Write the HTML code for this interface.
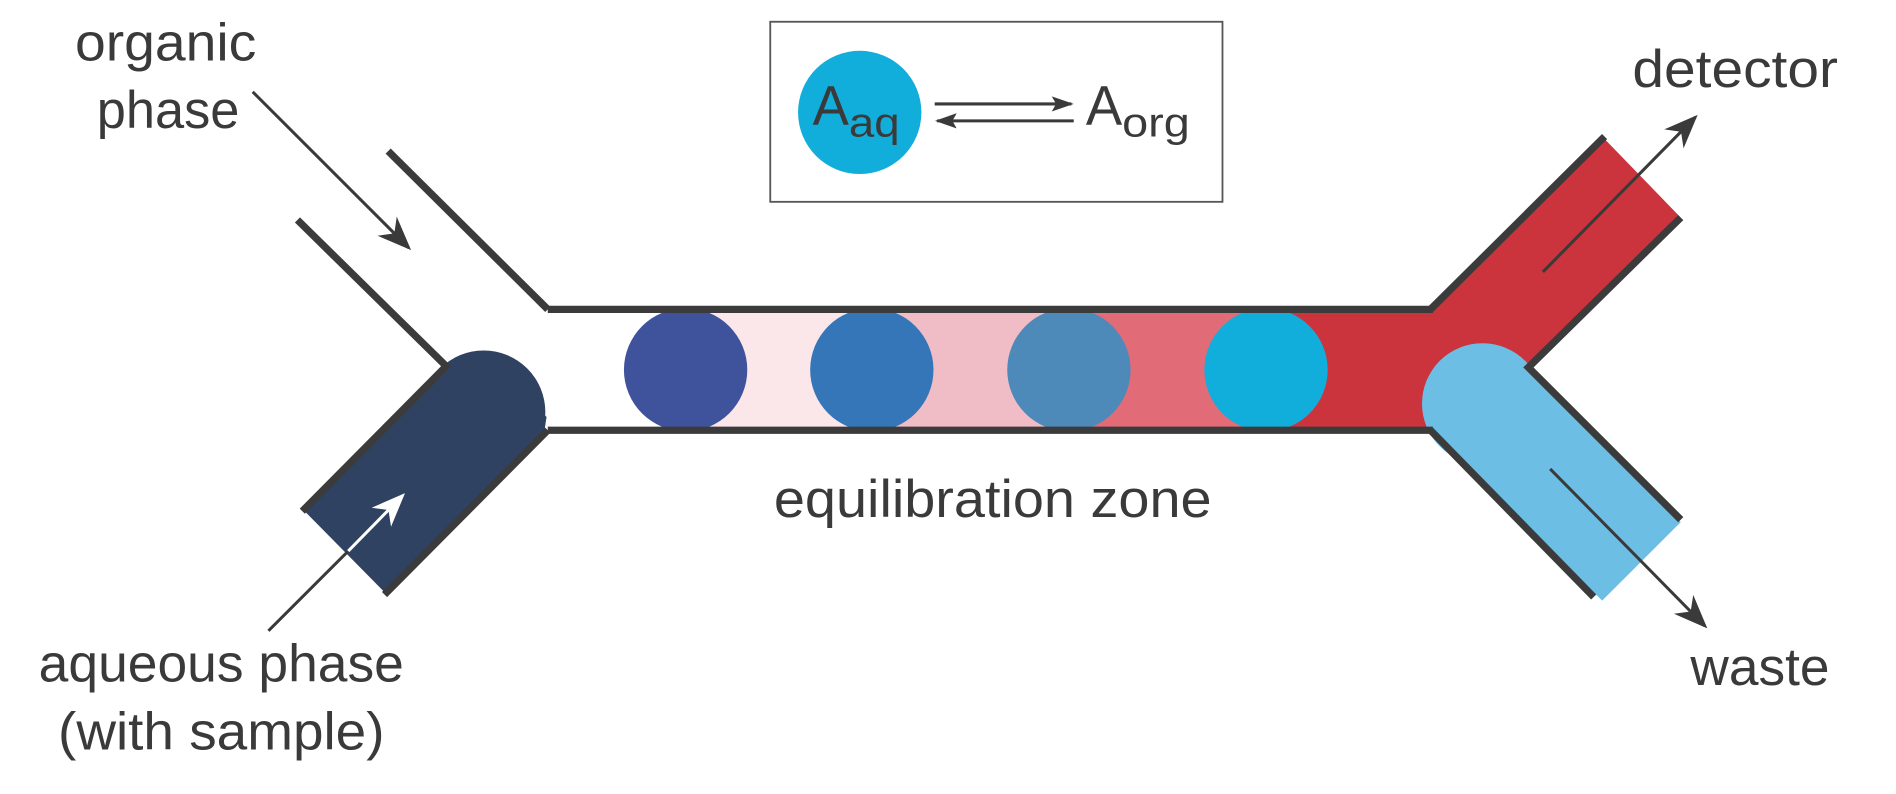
<!DOCTYPE html>
<html><head><meta charset="utf-8"><style>html,body{margin:0;padding:0;background:#fff}svg{display:block}</style></head>
<body>
<svg width="1896" height="794" viewBox="0 0 1568 657" preserveAspectRatio="none" xmlns="http://www.w3.org/2000/svg">
<defs>
<marker id="ahd" viewBox="0 0 10 10" refX="9" refY="5" markerWidth="28" markerHeight="28" orient="auto" markerUnits="userSpaceOnUse"><path d="M0,1 L10,5 L0,9 L3,5 z" fill="#3a3a3a"/></marker>
<marker id="ahs" viewBox="0 0 10 10" refX="9" refY="5" markerWidth="18" markerHeight="18" orient="auto" markerUnits="userSpaceOnUse"><path d="M0,1.5 L10,5 L0,8.5 L2,5 z" fill="#3a3a3a"/></marker>
<marker id="ahw" viewBox="0 0 10 10" refX="9" refY="5" markerWidth="28" markerHeight="28" orient="auto" markerUnits="userSpaceOnUse"><path d="M0,1 L10,5 L0,9 L3,5 z" fill="#fff"/></marker>
</defs>
<g font-family="Liberation Sans, sans-serif" fill="#3a3a3a" font-size="44">
<rect x="567" y="258" width="154" height="97" fill="#fbe6ea"/>
<rect x="721" y="258" width="150" height="97" fill="#f0bcc5"/>
<rect x="871" y="258" width="176" height="97" fill="#e26b78"/>
<rect x="1047" y="258" width="140" height="97" fill="#cb343d"/>
<polygon points="1183,258 1327,115 1388,178 1264,303 1183,357" fill="#cb343d"/>
<clipPath id="tc"><rect x="453" y="258" width="740" height="97"/></clipPath>
<g clip-path="url(#tc)">
<circle cx="567" cy="306" r="51" fill="#3f529c"/>
<circle cx="721" cy="306" r="51" fill="#3576b8"/>
<circle cx="884" cy="306" r="51" fill="#4d89b9"/>
<circle cx="1047" cy="306" r="51" fill="#12aedb"/>
</g>
<polygon points="1190,318 1260,300 1390,432 1325,497 1183,357" fill="#6dbee5"/>
<circle cx="1226" cy="334" r="50" fill="#6dbee5"/>
<polygon points="367,302 400,290 452,345 450,358 318,490 252,423" fill="#2f4262"/>
<circle cx="400" cy="341" r="51" fill="#2f4262"/>
<g stroke="#3b3b3b" stroke-width="6" fill="none">
<line x1="453" y1="256" x2="1185" y2="256"/>
<line x1="453" y1="356" x2="1185" y2="356"/>
<polyline points="321,125 453,256"/>
<polyline points="246,182 369,303 250,423"/>
<polyline points="453,356 318,492"/>
<polyline points="1183,256 1327,113"/>
<polyline points="1390,180 1264,304 1390,430"/>
<polyline points="1183,356 1318,494"/>
</g>
<line x1="209" y1="76" x2="338" y2="205" stroke="#3a3a3a" stroke-width="2.5" marker-end="url(#ahd)"/>
<line x1="222" y1="522" x2="288" y2="456" stroke="#3a3a3a" stroke-width="2.5"/>
<line x1="288" y1="456" x2="333" y2="410" stroke="#fff" stroke-width="2.5" marker-end="url(#ahw)"/>
<line x1="1276" y1="225" x2="1402" y2="97" stroke="#3a3a3a" stroke-width="2.5" marker-end="url(#ahd)"/>
<line x1="1282" y1="388" x2="1410" y2="518" stroke="#3a3a3a" stroke-width="2.5" marker-end="url(#ahd)"/>
<rect x="637" y="18" width="374" height="149" fill="none" stroke="#555" stroke-width="1.5"/>
<circle cx="711" cy="93" r="51" fill="#12aedb"/>
<text x="672" y="103" font-size="46" textLength="30" lengthAdjust="spacingAndGlyphs">A</text>
<text x="702" y="113" font-size="34" textLength="42" lengthAdjust="spacingAndGlyphs">aq</text>
<line x1="773" y1="86" x2="886" y2="86" stroke="#3a3a3a" stroke-width="2.5" marker-end="url(#ahs)"/>
<line x1="888" y1="100" x2="775" y2="100" stroke="#3a3a3a" stroke-width="2.5" marker-end="url(#ahs)"/>
<text x="898" y="103" font-size="46" textLength="30" lengthAdjust="spacingAndGlyphs">A</text>
<text x="928" y="113" font-size="34" textLength="56" lengthAdjust="spacingAndGlyphs">org</text>
<text x="62" y="50" textLength="150" lengthAdjust="spacingAndGlyphs">organic</text>
<text x="80" y="106" textLength="118" lengthAdjust="spacingAndGlyphs">phase</text>
<text x="1350" y="72" textLength="170" lengthAdjust="spacingAndGlyphs">detector</text>
<text x="1398" y="567" textLength="115" lengthAdjust="spacingAndGlyphs">waste</text>
<text x="32" y="564" textLength="302" lengthAdjust="spacingAndGlyphs">aqueous phase</text>
<text x="48" y="620" textLength="270" lengthAdjust="spacingAndGlyphs">(with sample)</text>
<text x="640" y="428" textLength="362" lengthAdjust="spacingAndGlyphs">equilibration zone</text>
</g>
</svg>
</body></html>
